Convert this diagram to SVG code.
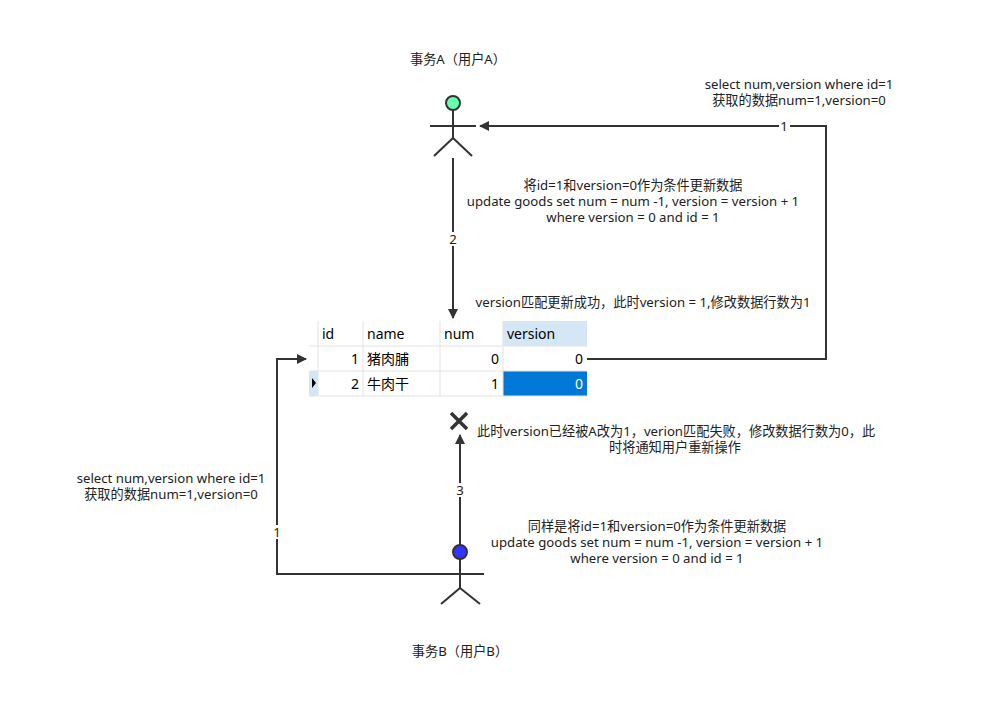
<svg xmlns="http://www.w3.org/2000/svg" width="985" height="723" viewBox="0 0 985 723">
<style>
text{font-family:"Noto Sans","Noto Sans CJK SC",sans-serif;font-size:13.2px;fill:#222}
.c{text-anchor:middle}
.ln{stroke:#333;stroke-width:2;fill:none}
.t{font-family:"Noto Sans","Noto Sans CJK SC",sans-serif;font-size:14px;fill:#000}
.r{text-anchor:end}
</style>
<defs><marker id="ah" markerWidth="10" markerHeight="10" refX="9" refY="5" orient="auto" markerUnits="userSpaceOnUse"><path d="M0,0 L10,5 L0,10 Z" fill="#333"/></marker></defs>
<rect width="985" height="723" fill="#fff"/>
<g id="actorA" class="ln">
<circle cx="453" cy="103" r="7" fill="#66ffb0" stroke="#333"/>
<line x1="453" y1="110" x2="453" y2="138"/><line x1="430" y1="126" x2="476" y2="126"/>
<line x1="453" y1="138" x2="434" y2="156"/><line x1="453" y1="138" x2="472" y2="156"/>
</g>
<text x="458" y="64" class="c">事务A（用户A）</text>
<g id="actorB" class="ln">
<circle cx="460" cy="552" r="7" fill="#3333ff" stroke="#333"/>
<line x1="460" y1="559" x2="460" y2="588"/><line x1="437" y1="574" x2="484" y2="574"/>
<line x1="460" y1="588" x2="441" y2="604"/><line x1="460" y1="588" x2="480" y2="604"/>
</g>
<text x="460" y="656" class="c">事务B（用户B）</text>
<g id="table">
<rect x="309" y="321" width="278" height="75" fill="#fff"/>
<rect x="503" y="321" width="84" height="25" fill="#d5e6f6"/>
<rect x="309" y="371" width="9" height="25" fill="#d5e6f6"/>
<rect x="503" y="371" width="84" height="25" fill="#0078d7"/>
<g stroke="#e3e3e3" fill="none">
<line x1="309" y1="346" x2="587" y2="346"/><line x1="309" y1="371" x2="587" y2="371"/><line x1="309" y1="396" x2="587" y2="396"/>
<line x1="318" y1="321" x2="318" y2="396"/><line x1="363" y1="321" x2="363" y2="396"/><line x1="440" y1="321" x2="440" y2="396"/><line x1="503" y1="321" x2="503" y2="396"/>
</g>
<path d="M312,378 L316,383 L312,388 Z" fill="#000"/>
<text x="322" y="339" class="t">id</text><text x="367" y="339" class="t">name</text><text x="444" y="339" class="t">num</text><text x="507" y="339" class="t">version</text>
<text x="359" y="364" class="t r">1</text><text x="367" y="364" class="t">猪肉脯</text><text x="499" y="364" class="t r">0</text><text x="583" y="364" class="t r">0</text>
<text x="359" y="389" class="t r">2</text><text x="367" y="389" class="t">牛肉干</text><text x="499" y="389" class="t r">1</text><text x="583" y="389" class="t r" style="fill:#fff">0</text>
</g>
<g id="connectors">
<path class="ln" d="M587,359 H826 V126 H480" marker-end="url(#ah)"/>
<path class="ln" d="M453,158 V318" marker-end="url(#ah)"/>
<path class="ln" d="M437,574 H277 V359 H306" marker-end="url(#ah)"/>
<path class="ln" d="M460,545 V435" marker-end="url(#ah)"/>
<rect x="779" y="119" width="11" height="14" fill="#fff"/><text x="784" y="131" class="c">1</text>
<rect x="448" y="232" width="11" height="14" fill="#fff"/><text x="453" y="244" class="c">2</text>
<rect x="272" y="525" width="11" height="14" fill="#fff"/><text x="277" y="537" class="c">1</text>
<rect x="455" y="483" width="11" height="14" fill="#fff"/><text x="460" y="495" class="c">3</text>
<path d="M451,413 L467,429 M467,413 L451,429" stroke="#333" stroke-width="3.5"/>
</g>
<g id="labels">
<text x="799" y="89" class="c">select num,version where id=1</text>
<text x="799" y="105" class="c">获取的数据num=1,version=0</text>
<text x="171" y="483" class="c">select num,version where id=1</text>
<text x="171" y="499" class="c">获取的数据num=1,version=0</text>
<text x="633" y="190" class="c">将id=1和version=0作为条件更新数据</text>
<text x="633" y="206" class="c">update goods set num = num -1, version = version + 1</text>
<text x="633" y="222" class="c">where version = 0 and id = 1</text>
<text x="643" y="307" class="c">version匹配更新成功，此时version = 1,修改数据行数为1</text>
<text x="477" y="436">此时version已经被A改为1，verion匹配失败，修改数据行数为0，此</text>
<text x="675" y="452" class="c">时将通知用户重新操作</text>
<text x="657" y="531" class="c">同样是将id=1和version=0作为条件更新数据</text>
<text x="657" y="547" class="c">update goods set num = num -1, version = version + 1</text>
<text x="657" y="563" class="c">where version = 0 and id = 1</text>
</g>
</svg>
